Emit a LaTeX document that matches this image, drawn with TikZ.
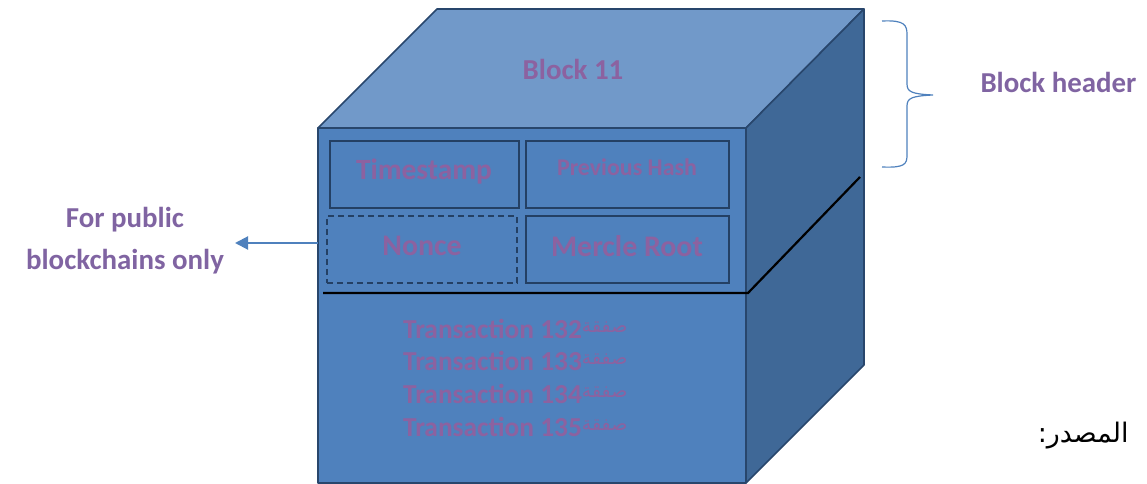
\documentclass[tikz,border=0pt]{standalone}
\usepackage{fontspec}
\setmainfont{Carlito}
\newfontfamily\arabicfont[Script=Arabic]{DejaVu Sans}
\TeXXeTstate=1
\usetikzlibrary{arrows.meta}
\definecolor{topface}{RGB}{113,153,201}
\definecolor{frontface}{RGB}{79,129,189}
\definecolor{sideface}{RGB}{63,104,151}
\definecolor{edgecol}{RGB}{40,70,108}
\definecolor{boxedge}{RGB}{36,64,100}
\definecolor{intext}{RGB}{140,98,160}
\definecolor{outtext}{RGB}{128,100,162}
\definecolor{linkblue}{RGB}{79,129,189}
\tikzset{
  face/.style={draw=edgecol, line width=1.6bp, line join=round},
  fieldbox/.style={draw=boxedge, line width=1.8bp, minimum width=189bp, minimum height=67bp, inner sep=0pt},
  intxt/.style={text=intext, font=\bfseries},
  outtxt/.style={text=outtext, font=\bfseries\fontsize{29}{42}\selectfont, align=center},
}
\begin{document}
\begin{tikzpicture}[x=1bp,y=-1bp]
\useasboundingbox (0,0) rectangle (1147,484);
% cube corners
\coordinate (ftl) at (318,128);
\coordinate (ftr) at (746,128);
\coordinate (fbl) at (318,483);
\coordinate (fbr) at (746,483);
\coordinate (btl) at (437,9);
\coordinate (btr) at (864,9);
\coordinate (bbr) at (864,365);
% faces
\filldraw[face, fill=topface] (ftl) -- (btl) -- (btr) -- (ftr) -- cycle;
\filldraw[face, fill=sideface] (ftr) -- (btr) -- (bbr) -- (fbr) -- cycle;
\filldraw[face, fill=frontface] (ftl) -- (ftr) -- (fbr) -- (fbl) -- cycle;
% title
\node[intxt, font=\bfseries\fontsize{29}{32}\selectfont] (title) at (573,69) {Block 11};
% header fields
\node[fieldbox, minimum width=189bp] (ts) at (424.5,174.5) {};
\node[fieldbox, minimum width=203bp] (ph) at (627.5,174.5) {};
\node[fieldbox, minimum width=190bp, dashed, dash pattern=on 6bp off 4bp] (nonce) at (422,249.5) {};
\node[fieldbox, minimum width=203bp] (mr) at (627.5,249.5) {};
\node[intxt, font=\bfseries\fontsize{29.5}{32}\selectfont] (tslbl) at (424,172) {Timestamp};
\node[intxt, font=\bfseries\fontsize{24}{28}\selectfont] (phlbl) at (627,167) {Previous Hash};
\node[intxt, font=\bfseries\fontsize{30}{32}\selectfont] (nlbl) at (422,246) {Nonce};
\node[intxt, font=\bfseries\fontsize{30}{32}\selectfont] (mrlbl) at (627,246) {Mercle Root};
% separator line
\coordinate (hl) at (323,293);
\coordinate (hm) at (748,293);
\coordinate (hr) at (860,177);
\draw[black, line width=2.2bp] (hl) -- (hm) -- (hr);
% transactions
\foreach \n/\y in {132/329, 133/361, 134/394, 135/427}{
  \node[intxt, font=\bfseries\fontsize{27.5}{30}\selectfont, anchor=west, inner sep=0pt] (tx\n) at (403,\y)
    {Transaction \n\raisebox{6bp}{\arabicfont\mdseries\fontsize{19}{20}\selectfont\beginR صفقة\endR}};
}
% public blockchains note
\node[outtxt] (pub) at (125,241) {For public\\blockchains only};
\coordinate (arrend) at (235,243);
\draw[linkblue, line width=2bp, -{Triangle[length=13bp, width=13bp]}] (arrend -| fbl) -- (arrend);
% block header brace
\coordinate (bt) at (882,21);
\coordinate (bm) at (933,95);
\coordinate (bb) at (882,167);
\draw[linkblue, line width=1.2bp] (bt) .. controls (905,20) and (907,25) .. (907,35) -- (907,84)
  .. controls (907,92) and (912,94) .. (bm)
  .. controls (912,96) and (907,98) .. (907,106) -- (907,155)
  .. controls (907,164) and (905,168) .. (bb);
\node[outtxt, anchor=west] (bh) at (977,82) {Block header};
% source label
\node[anchor=east, font=\arabicfont\fontsize{27}{30}\selectfont] (src) at (1132,436) {\beginR المصدر:\endR};
\end{tikzpicture}
\end{document}
